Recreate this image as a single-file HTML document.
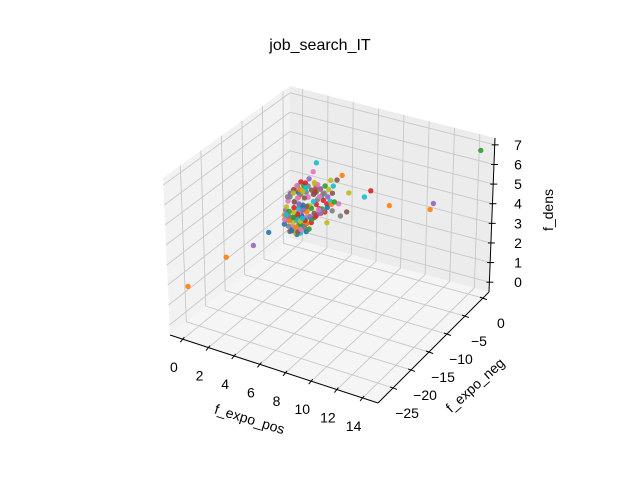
<!DOCTYPE html>
<html><head><meta charset="utf-8"><style>
html,body{margin:0;padding:0;background:#fff;}
svg{display:block;font-family:"Liberation Sans","DejaVu Sans",sans-serif;}
</style></head><body>
<svg id="chart" width="640" height="480" viewBox="0 0 640 480" xmlns="http://www.w3.org/2000/svg">
<rect width="640" height="480" fill="#fff"/>
<text x="320" y="50" font-size="16" text-anchor="middle">job_search_IT</text>
<g id="panes"></g>
<g id="grid"></g>
<g id="axes"></g>
<g id="points"></g>
<text x="250" y="424" font-size="14" text-anchor="middle" transform="rotate(17 250 418)">f_expo_pos</text>
<text x="475" y="390" font-size="14" text-anchor="middle" transform="rotate(-42 475 385)">f_expo_neg</text>
<text x="553" y="210" font-size="14" text-anchor="middle" transform="rotate(-90 553 210)">f_dens</text>
</svg>
<script>
const xTicks=[0,2,4,6,8,10,12,14];
const yTicks=[0,-5,-10,-15,-20,-25];
const zTicks=[0,1,2,3,4,5,6,7];
const xs=[0,0,14.6,6.0,0,4.1,1.4,3.6,4.25,1.65, 0.5,0,1.65,2.2,11,3.3,3.45,1.0,2.8,5.5, 0.8,10.75,1.2,2.5,0.3,1.8,0.6,2.0,1.5,0.9, 0.4,7.5,1.1,2.6,0.7,1.9,0.2,3.0,1.3,2.3, 0.1,3.7,0.5,1.6,2.1,0.9,1.4,0.3,2.7,1.0, 0.6,1.7,2.4,0.2,1.2,0.8,2.0,1.5,0.4,2.9, 1.1,0.7,1.8,2.2,0.3,1.3,0.9,2.5,1.6,0.5,
0.2,0.5,0.8,1.1,1.4,1.7,2.0,2.3,0.3,0.6,0.9,1.2,1.5,1.8,2.1,0.1,0.4,0.7,1.0,1.3,
0.3,0.6,0.9,1.2,1.5,1.8,2.1,0.2,0.5,0.8,1.1,1.4,1.7,2.0,0.4,0.7,1.0,1.3,1.6,1.9,
0.1,0.4,0.7,1.0,1.3,1.6,0.2,0.5,0.8,1.1,1.4,0.3,0.6,0.9,1.2,0.2,0.5,0.8,0.4,0.6,
2.6,2.9,3.2,2.4,2.7,3.0,2.2,2.5,2.8,3.1,1.9,2.3,2.6,2.0,2.4,1.8,2.2,1.6,2.0,1.4,
0.3,0.5,0.7,0.9,1.1,0.2,0.4,0.6,0.8,1.0,0.1,0.3,0.5,0.7,0.2,0.4,0.6,0.3,0.5,0.1];
const ys=[-6.9,-27.4,0,0,-10.8,0,0,0,0,0, -1.5,-17.7,0,-1.0,0,0,0,-2.0,0,0, -3.0,0,-2.5,-0.5,-3.5,-1.2,-2.8,-0.8,-1.8,-3.2, -2.2,0,-1.4,-0.3,-3.8,-0.9,-2.6,-0.2,-1.6,-0.7, 0,0,-1.9,-1.1,-0.4,-2.4,-1.3,-3.0,-0.6,-2.0, -1.0,-0.5,-0.9,-2.9,-1.7,-0.3,-1.2,-2.1,-3.6,-0.4, -0.8,-1.5,-2.3,-0.6,-1.1,-2.7,-0.2,-1.0,-1.4,-3.3,
-0.5,-0.8,-0.4,-0.7,-0.3,-0.6,-0.2,-0.4,-1.2,-1.0,-0.9,-1.1,-0.8,-0.5,-0.6,-1.8,-1.5,-1.4,-1.3,-1.6,
-2.0,-1.8,-1.7,-1.5,-1.2,-1.0,-0.8,-2.5,-2.3,-2.2,-2.0,-1.7,-1.4,-1.1,-2.8,-2.6,-2.4,-2.1,-1.9,-1.5,
-3.2,-3.0,-2.9,-2.7,-2.4,-2.2,-3.5,-3.3,-3.1,-2.8,-2.6,-3.8,-3.6,-3.3,-3.0,-0.1,-0.2,-0.3,-0.1,-0.2,
-0.2,-0.1,-0.3,-0.6,-0.4,-0.2,-0.9,-0.7,-0.5,-0.3,-1.2,-1.0,-0.8,-1.5,-1.3,-1.7,-1.4,-1.9,-1.6,-2.1,
-0.3,-0.5,-0.2,-0.4,-0.1,-1.0,-0.8,-0.6,-0.7,-0.5,-1.5,-1.3,-1.1,-0.9,-2.0,-1.8,-1.6,-2.4,-2.2,-2.8];
const zs=[1.35,1.85,6.9,3.4,1.3,2.0,3.6,1.7,3.0,4.1, 1.2,1.8,2.6,2.0,3.6,3.5,2.3,1.5,3.4,3.0, 1.6,3.25,2.2,1.8,2.0,2.7,1.1,2.4,1.9,2.5, 0.8,2.9,1.4,2.2,1.7,3.0,2.3,1.9,0.9,2.6, 0.15,3.8,2.8,1.2,2.9,1.5,2.5,2.6,1.3,0.7, 1.9,3.1,2.0,1.4,1.0,2.2,1.6,2.9,2.2,2.4, 0.6,2.4,1.1,1.7,2.6,1.8,1.2,2.8,2.1,1.5,
0.4,0.6,0.8,1.0,1.2,1.4,1.6,1.8,0.5,0.7,0.9,1.1,1.3,1.5,1.7,0.6,0.8,1.0,1.2,1.4,
0.7,0.9,1.1,1.3,1.5,1.7,1.9,1.0,1.2,1.4,1.6,1.8,2.0,2.2,1.4,1.6,1.8,2.0,2.2,2.4,
1.2,1.4,1.6,1.8,2.0,2.2,1.5,1.7,1.9,2.1,2.3,1.8,2.0,2.2,2.4,0.3,0.5,0.7,0.9,1.1,
2.0,2.2,2.4,2.4,2.6,2.8,2.6,2.8,3.0,3.2,2.8,3.0,3.2,2.9,3.1,3.0,3.3,3.2,3.4,3.0,
2.4,2.6,2.8,3.0,3.2,2.0,2.2,2.4,2.6,2.8,2.5,2.7,2.9,3.1,2.6,2.8,3.0,2.5,2.7,1.6];
const xmin=-1.0,xmax=15.2,ymin=-29.2,ymax=1.7,zmin=-0.5,zmax=7.35;
const FL=[170,335],FF=[378,403],FR=[489,292],FB=[290,238];
const HL=[-7,-157],HF=[4,-165],HR=[6,-154],HB=[0,-152];
const colors=["#1f77b4","#ff7f0e","#2ca02c","#d62728","#9467bd","#8c564b","#e377c2","#7f7f7f","#bcbd22","#17becf"];
function bil(a,b,c,d,u,v,i){return (1-u)*(1-v)*a[i]+u*(1-v)*b[i]+u*v*c[i]+(1-u)*v*d[i];}
function proj(x,y,z){const u=(x-xmin)/(xmax-xmin),v=(y-ymin)/(ymax-ymin),w=(z-zmin)/(zmax-zmin);
return [bil(FL,FF,FR,FB,u,v,0)+w*bil(HL,HF,HR,HB,u,v,0), bil(FL,FF,FR,FB,u,v,1)+w*bil(HL,HF,HR,HB,u,v,1)];}
const NS="http://www.w3.org/2000/svg";
function mk(tag,parent,attrs){const e=document.createElementNS(NS,tag);for(const k in attrs)e.setAttribute(k,attrs[k]);parent.appendChild(e);return e;}
function line(parent,a,b,stroke,wd){return mk('line',parent,{x1:a[0],y1:a[1],x2:b[0],y2:b[1],stroke:stroke,'stroke-width':wd});}
function poly(parent,pts,fill){return mk('polygon',parent,{points:pts.map(p=>p.join(',')).join(' '),fill:fill});}
const panes=document.getElementById('panes'),grid=document.getElementById('grid'),axes=document.getElementById('axes'),pg=document.getElementById('points');
let p=poly(panes,[proj(xmin,ymin,zmin),proj(xmin,ymax,zmin),proj(xmin,ymax,zmax),proj(xmin,ymin,zmax)],'#f2f2f2');

p=poly(panes,[proj(xmin,ymax,zmin),proj(xmax,ymax,zmin),proj(xmax,ymax,zmax),proj(xmin,ymax,zmax)],'#ececec');

p=poly(panes,[proj(xmin,ymin,zmin),proj(xmax,ymin,zmin),proj(xmax,ymax,zmin),proj(xmin,ymax,zmin)],'#f5f5f5');

const gc='#c8c8c8';
xTicks.forEach(t=>{let l=line(grid,proj(t,ymin,zmin),proj(t,ymax,zmin),gc,0.9);
l=line(grid,proj(t,ymax,zmin),proj(t,ymax,zmax),gc,0.9);});
yTicks.forEach(t=>{let l=line(grid,proj(xmin,t,zmin),proj(xmax,t,zmin),gc,0.9);
l=line(grid,proj(xmin,t,zmin),proj(xmin,t,zmax),gc,0.9);});
zTicks.forEach(t=>{let l=line(grid,proj(xmin,ymin,t),proj(xmin,ymax,t),gc,0.9);
l=line(grid,proj(xmin,ymax,t),proj(xmax,ymax,t),gc,0.9);});
let ax=line(axes,proj(xmin,ymin,zmin),proj(xmax,ymin,zmin),'#000',1);
ax=line(axes,proj(xmax,ymin,zmin),proj(xmax,ymax,zmin),'#000',1);
ax=line(axes,proj(xmax,ymax,zmin),proj(xmax,ymax,zmax),'#000',1);
function txt(parent,x,y,s){const e=mk('text',parent,{x:x,y:y,'font-size':14,'text-anchor':'middle','dominant-baseline':'central'});e.textContent=s;return e;}
xTicks.forEach(t=>{const a=proj(t,ymin,zmin);let l=line(axes,[a[0]+1.5,a[1]-2],[a[0]-2.5,a[1]+3],'#000',1);
const e=txt(axes,a[0]-9,a[1]+28,String(t));});
yTicks.forEach(t=>{const a=proj(xmax,t,zmin);let l=line(axes,[a[0]-3,a[1]-1],[a[0]+4,a[1]+1.5],'#000',1);
const e=txt(axes,a[0]+18+(t<0?-4:0),a[1]+25,String(t).replace('-','\u2212'));});
zTicks.forEach(t=>{const a=proj(xmax,ymax,t);let l=line(axes,[a[0]-3,a[1]],[a[0]+4,a[1]],'#000',1);
const e=txt(axes,518,a[1],String(t));});
xs.forEach((x,i)=>{const q=proj(x,ys[i],zs[i]);
const c=mk('circle',pg,{cx:q[0].toFixed(1),cy:q[1].toFixed(1),r:2.7,fill:colors[i%10],'fill-opacity':0.9});

});
</script>
</body></html>
